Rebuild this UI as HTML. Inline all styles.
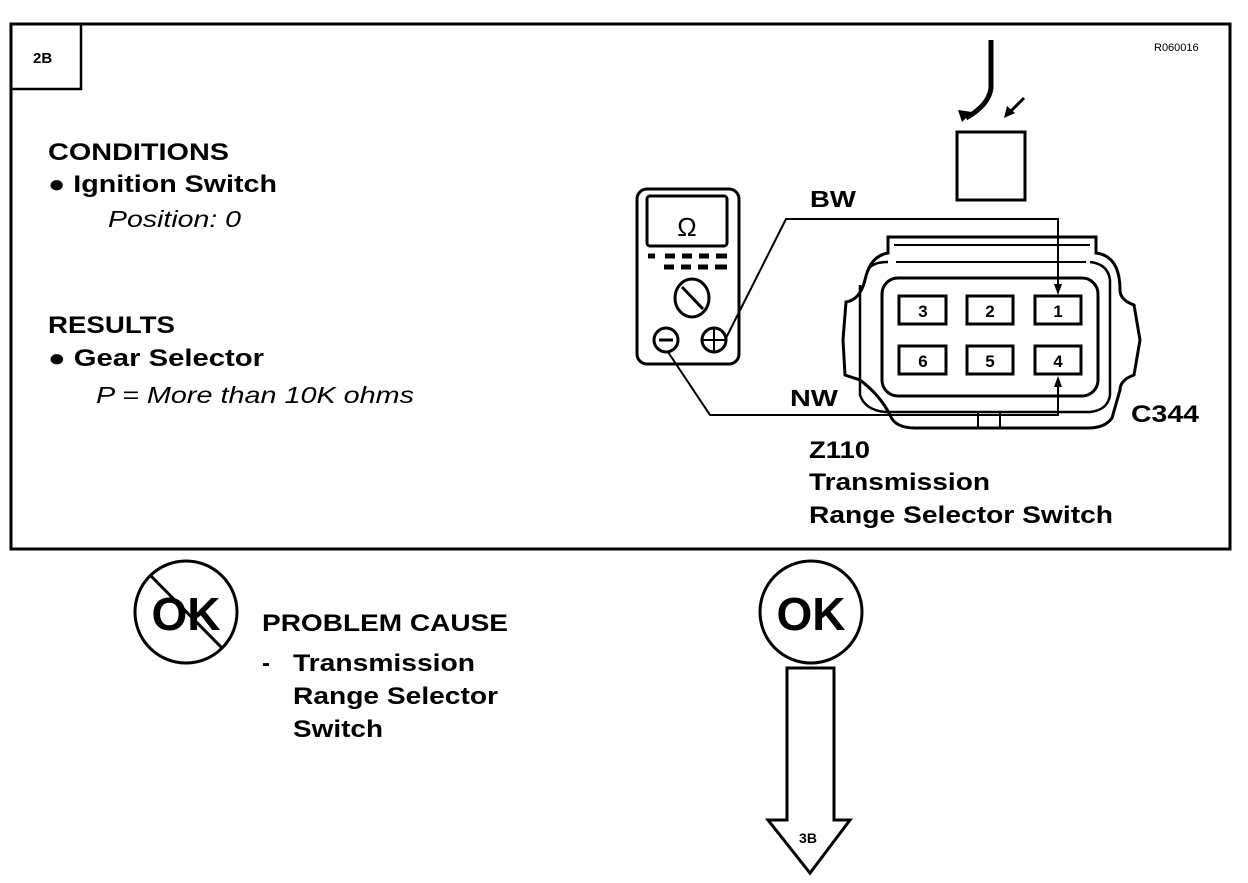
<!DOCTYPE html>
<html><head><style>
body{margin:0;background:#fff;}
svg text{font-family:"Liberation Sans",Arial,sans-serif;}
</style></head><body>
<svg width="1248" height="878" viewBox="0 0 1248 878" xmlns="http://www.w3.org/2000/svg">
<rect x="11" y="24" width="1219" height="525" fill="none" stroke="#000" stroke-width="3"/>
<rect x="11" y="24" width="70" height="65" fill="none" stroke="#000" stroke-width="2.5"/>
<text x="33" y="63" font-size="15" font-weight="bold">2B</text>
<text x="1154" y="51" font-size="11">R060016</text>
<g font-weight="bold" font-size="24">
<text x="48" y="160" textLength="181" lengthAdjust="spacingAndGlyphs">CONDITIONS</text>
<text x="48" y="192" textLength="229" lengthAdjust="spacingAndGlyphs">● Ignition Switch</text>
<text x="48" y="333" textLength="127" lengthAdjust="spacingAndGlyphs">RESULTS</text>
<text x="48" y="366" textLength="216" lengthAdjust="spacingAndGlyphs">● Gear Selector</text>
</g>
<text x="108" y="227" font-size="23" font-style="italic" textLength="133" lengthAdjust="spacingAndGlyphs">Position: 0</text>
<text x="96" y="403" font-size="23" font-style="italic" textLength="318" lengthAdjust="spacingAndGlyphs">P = More than 10K ohms</text>
<!-- meter -->
<rect x="637" y="189" width="102" height="175" rx="10" fill="none" stroke="#000" stroke-width="3"/>
<rect x="647" y="196" width="80" height="50" rx="3" fill="none" stroke="#000" stroke-width="3"/>
<text x="687" y="236" font-size="26" text-anchor="middle">Ω</text>
<g stroke="#000" stroke-width="5">
<line x1="648" y1="256" x2="655" y2="256"/><line x1="665" y1="256" x2="675" y2="256"/><line x1="682" y1="256" x2="692" y2="256"/><line x1="699" y1="256" x2="709" y2="256"/><line x1="716" y1="256" x2="727" y2="256"/>
<line x1="664" y1="267" x2="674" y2="267"/><line x1="681" y1="267" x2="691" y2="267"/><line x1="698" y1="267" x2="708" y2="267"/><line x1="715" y1="267" x2="727" y2="267"/>
</g>
<ellipse cx="692" cy="298" rx="17" ry="19" fill="none" stroke="#000" stroke-width="3"/>
<line x1="682" y1="287" x2="703" y2="309" stroke="#000" stroke-width="3"/>
<circle cx="666" cy="340" r="12" fill="none" stroke="#000" stroke-width="3"/>
<line x1="659" y1="340" x2="673" y2="340" stroke="#000" stroke-width="3"/>
<circle cx="714" cy="340" r="12" fill="none" stroke="#000" stroke-width="3"/>
<line x1="702" y1="340" x2="726" y2="340" stroke="#000" stroke-width="2"/>
<line x1="714" y1="328" x2="714" y2="352" stroke="#000" stroke-width="2"/>
<!-- wires -->
<polyline points="725,340 786,219 1058,219 1058,293" fill="none" stroke="#000" stroke-width="2"/>
<polygon points="1054,284 1062,284 1058,295" fill="#000"/>
<polyline points="668,352 710,415 1058,415 1058,378" fill="none" stroke="#000" stroke-width="2"/>
<polygon points="1054,387 1062,387 1058,376" fill="#000"/>
<text x="810" y="207" font-size="23" font-weight="bold" textLength="46" lengthAdjust="spacingAndGlyphs">BW</text>
<text x="790" y="406" font-size="23" font-weight="bold" textLength="48" lengthAdjust="spacingAndGlyphs">NW</text>
<!-- relay -->
<rect x="957" y="132" width="68" height="68" fill="none" stroke="#000" stroke-width="3"/>
<path d="M991,40 L991,88 Q989,105 966,118" fill="none" stroke="#000" stroke-width="5"/>
<polygon points="958,110 972,112 962,122" fill="#000"/>
<line x1="1024" y1="98" x2="1008" y2="114" stroke="#000" stroke-width="3"/>
<polygon points="1004,118 1007,106 1015,113" fill="#000"/>
<!-- connector -->
<path d="M888,237 L1096,237 L1096,253 Q1120,256 1120,290 Q1120,300 1134,305 L1140,340 L1134,375 Q1120,380 1120,390 L1112,418 Q1105,428 1088,428 L915,428 Q895,428 890,415 Q880,395 860,380 L845,375 L843,340 L846,302 Q860,300 865,280 Q870,256 888,253 Z" fill="none" stroke="#000" stroke-width="3"/>
<path d="M894,245 L1090,245 M896,262 L1086,262" fill="none" stroke="#000" stroke-width="2"/>
<path d="M868,270 Q872,262 888,262 M1090,262 Q1108,264 1110,280 L1110,395 Q1108,410 1090,412 L885,412 Q865,410 860,395 L860,285" fill="none" stroke="#000" stroke-width="2.5"/>
<rect x="882" y="278" width="216" height="118" rx="16" fill="none" stroke="#000" stroke-width="3"/>
<line x1="978" y1="412" x2="978" y2="428" stroke="#000" stroke-width="2"/>
<line x1="1000" y1="412" x2="1000" y2="428" stroke="#000" stroke-width="2"/>
<g fill="none" stroke="#000" stroke-width="3">
<rect x="899" y="296" width="47" height="28"/><rect x="967" y="296" width="46" height="28"/><rect x="1035" y="296" width="46" height="28"/>
<rect x="899" y="346" width="47" height="28"/><rect x="967" y="346" width="46" height="28"/><rect x="1035" y="346" width="46" height="28"/>
</g>
<g font-size="17" font-weight="bold" text-anchor="middle">
<text x="923" y="317">3</text><text x="990" y="317">2</text><text x="1058" y="317">1</text>
<text x="923" y="367">6</text><text x="990" y="367">5</text><text x="1058" y="367">4</text>
</g>
<g font-size="24" font-weight="bold">
<text x="1131" y="422" textLength="68" lengthAdjust="spacingAndGlyphs">C344</text>
<text x="809" y="458" textLength="61" lengthAdjust="spacingAndGlyphs">Z110</text>
<text x="809" y="490" textLength="181" lengthAdjust="spacingAndGlyphs">Transmission</text>
<text x="809" y="523" textLength="304" lengthAdjust="spacingAndGlyphs">Range Selector Switch</text>
</g>
<!-- bottom -->
<circle cx="186" cy="612" r="51" fill="none" stroke="#000" stroke-width="3"/>
<text x="186" y="630" font-size="46" font-weight="bold" text-anchor="middle">OK</text>
<line x1="151" y1="576" x2="222" y2="648" stroke="#000" stroke-width="3"/>
<text x="262" y="631" font-size="24" font-weight="bold" textLength="246" lengthAdjust="spacingAndGlyphs">PROBLEM CAUSE</text>
<g font-size="24" font-weight="bold">
<text x="262" y="671">-</text>
<text x="293" y="671" textLength="182" lengthAdjust="spacingAndGlyphs">Transmission</text>
<text x="293" y="704" textLength="205" lengthAdjust="spacingAndGlyphs">Range Selector</text>
<text x="293" y="737" textLength="90" lengthAdjust="spacingAndGlyphs">Switch</text>
</g>
<circle cx="811" cy="612" r="51" fill="none" stroke="#000" stroke-width="3"/>
<text x="811" y="630" font-size="46" font-weight="bold" text-anchor="middle">OK</text>
<polygon points="787,668 834,668 834,820 850,820 810,873 768,820 787,820" fill="none" stroke="#000" stroke-width="3"/>
<text x="808" y="843" font-size="14" font-weight="bold" text-anchor="middle">3B</text>
</svg>
</body></html>
